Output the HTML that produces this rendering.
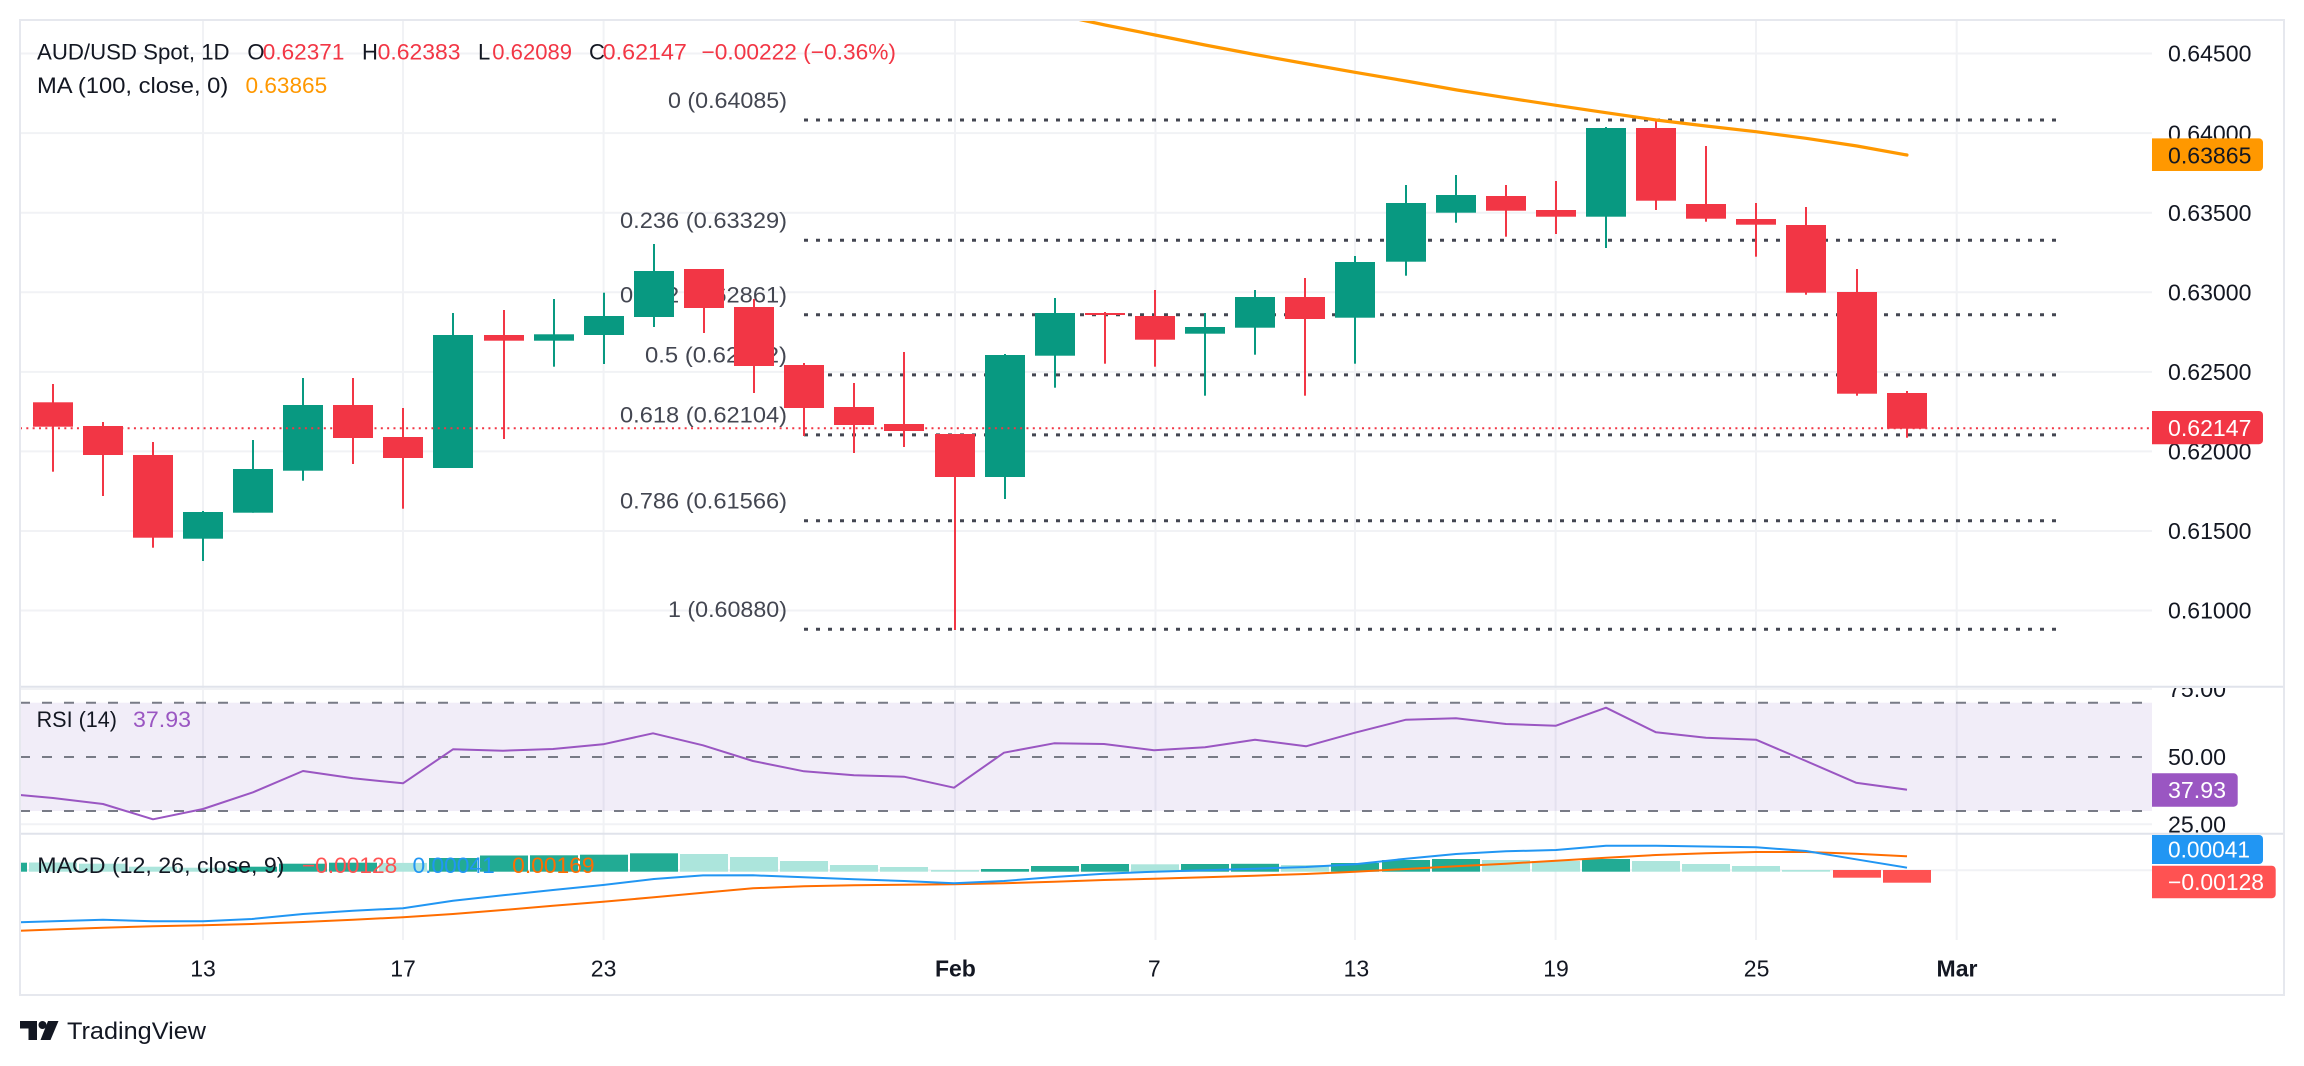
<!DOCTYPE html>
<html>
<head>
<meta charset="utf-8">
<style>
  html,body{margin:0;padding:0;background:#ffffff;}
  svg{display:block;}
  text{font-family:"Liberation Sans", Arial, sans-serif;}
</style>
</head>
<body>
<svg width="2304" height="1066" viewBox="0 0 2304 1066" xmlns="http://www.w3.org/2000/svg">
  <defs>
    <clipPath id="mainClip"><rect x="20" y="20" width="2132" height="666"/></clipPath>
    <clipPath id="rsiAxisClip"><rect x="2152" y="688" width="132" height="145"/></clipPath>
  </defs>
  <rect x="0" y="0" width="2304" height="1066" fill="#ffffff"/>

  <!-- horizontal gridlines main -->
  <g stroke="#f1f2f5" stroke-width="2">
    <line x1="20" y1="53.5" x2="2152" y2="53.5"/>
    <line x1="20" y1="133.1" x2="2152" y2="133.1"/>
    <line x1="20" y1="212.7" x2="2152" y2="212.7"/>
    <line x1="20" y1="292.2" x2="2152" y2="292.2"/>
    <line x1="20" y1="371.9" x2="2152" y2="371.9"/>
    <line x1="20" y1="451.4" x2="2152" y2="451.4"/>
    <line x1="20" y1="531" x2="2152" y2="531"/>
    <line x1="20" y1="610.5" x2="2152" y2="610.5"/>
    <line x1="20" y1="689" x2="2152" y2="689"/>
    <line x1="20" y1="824.3" x2="2152" y2="824.3"/>
    <line x1="20" y1="870.3" x2="2152" y2="870.3"/>
  </g>
  <!-- vertical gridlines -->
  <g stroke="#f1f2f5" stroke-width="2">
    <line x1="203" y1="20" x2="203" y2="940"/>
    <line x1="403" y1="20" x2="403" y2="940"/>
    <line x1="603.6" y1="20" x2="603.6" y2="940"/>
    <line x1="955" y1="20" x2="955" y2="940"/>
    <line x1="1155.5" y1="20" x2="1155.5" y2="940"/>
    <line x1="1355" y1="20" x2="1355" y2="940"/>
    <line x1="1555.6" y1="20" x2="1555.6" y2="940"/>
    <line x1="1756" y1="20" x2="1756" y2="940"/>
    <line x1="1956.7" y1="20" x2="1956.7" y2="940"/>
  </g>

  <!-- Fib labels (behind candles) -->
  <g fill="#434651" font-size="22">
    <text x="668" y="108" textLength="119" lengthAdjust="spacingAndGlyphs">0 (0.64085)</text>
    <text x="620" y="228" textLength="167" lengthAdjust="spacingAndGlyphs">0.236 (0.63329)</text>
    <text x="620" y="302.5" textLength="167" lengthAdjust="spacingAndGlyphs">0.382 (0.62861)</text>
    <text x="645" y="362.5" textLength="142" lengthAdjust="spacingAndGlyphs">0.5 (0.62482)</text>
    <text x="620" y="422.5" textLength="167" lengthAdjust="spacingAndGlyphs">0.618 (0.62104)</text>
    <text x="620" y="508.5" textLength="167" lengthAdjust="spacingAndGlyphs">0.786 (0.61566)</text>
    <text x="668" y="617" textLength="119" lengthAdjust="spacingAndGlyphs">1 (0.60880)</text>
  </g>

  <!-- Fib dotted lines -->
  <g stroke="#434651" stroke-width="3" stroke-dasharray="4 8">
    <line x1="804" y1="120" x2="2057" y2="120"/>
    <line x1="804" y1="240.2" x2="2057" y2="240.2"/>
    <line x1="804" y1="314.8" x2="2057" y2="314.8"/>
    <line x1="804" y1="374.9" x2="2057" y2="374.9"/>
    <line x1="804" y1="434.9" x2="2057" y2="434.9"/>
    <line x1="804" y1="520.7" x2="2057" y2="520.7"/>
    <line x1="804" y1="629.3" x2="2057" y2="629.3"/>
  </g>

  <!-- Candles -->
  <g clip-path="url(#mainClip)">
    <g fill="#F23645">
      <rect x="52" y="384" width="2" height="87.7"/><rect x="33" y="402.3" width="40" height="24.4"/>
      <rect x="102" y="422" width="2" height="74"/><rect x="83" y="426" width="40" height="29"/>
      <rect x="152" y="442" width="2" height="105.7"/><rect x="133" y="455" width="40" height="82.7"/>
      <rect x="352" y="378" width="2" height="86"/><rect x="333" y="405" width="40" height="33"/>
      <rect x="402" y="408" width="2" height="100.7"/><rect x="383" y="437" width="40" height="21"/>
      <rect x="503" y="310" width="2" height="129"/><rect x="484" y="335" width="40" height="5.7"/>
      <rect x="703" y="269" width="2" height="64"/><rect x="684" y="269" width="40" height="39"/>
      <rect x="753" y="299" width="2" height="94"/><rect x="734" y="307" width="40" height="59"/>
      <rect x="803" y="363" width="2" height="73"/><rect x="784" y="365" width="40" height="43"/>
      <rect x="853" y="383" width="2" height="70"/><rect x="834" y="407" width="40" height="18"/>
      <rect x="903" y="352" width="2" height="95"/><rect x="884" y="424" width="40" height="7"/>
      <rect x="954" y="434" width="2" height="196"/><rect x="935" y="434" width="40" height="43"/>
      <rect x="1104" y="312" width="2" height="51.7"/><rect x="1085" y="313" width="40" height="2"/>
      <rect x="1154" y="290" width="2" height="76.7"/><rect x="1135" y="316" width="40" height="23.7"/>
      <rect x="1304" y="278" width="2" height="117.7"/><rect x="1285" y="297" width="40" height="22"/>
      <rect x="1505" y="185" width="2" height="51.7"/><rect x="1486" y="196" width="40" height="14.7"/>
      <rect x="1555" y="181" width="2" height="53"/><rect x="1536" y="210" width="40" height="6.7"/>
      <rect x="1655" y="119" width="2" height="91"/><rect x="1636" y="128" width="40" height="72.7"/>
      <rect x="1705" y="146" width="2" height="75.7"/><rect x="1686" y="204" width="40" height="14.7"/>
      <rect x="1755" y="203" width="2" height="53.7"/><rect x="1736" y="219" width="40" height="5.7"/>
      <rect x="1805" y="207" width="2" height="87.7"/><rect x="1786" y="225" width="40" height="67.7"/>
      <rect x="1856" y="269" width="2" height="126.7"/><rect x="1837" y="292" width="40" height="101.7"/>
      <rect x="1906" y="391" width="2" height="46.7"/><rect x="1887" y="393" width="40" height="35.7"/>
    </g>
    <g fill="#089981">
      <rect x="202" y="511" width="2" height="50"/><rect x="183" y="512" width="40" height="26.7"/>
      <rect x="252" y="440" width="2" height="72.7"/><rect x="233" y="469" width="40" height="43.7"/>
      <rect x="302" y="378" width="2" height="102.7"/><rect x="283" y="405" width="40" height="65.7"/>
      <rect x="452" y="313" width="2" height="155"/><rect x="433" y="335" width="40" height="133"/>
      <rect x="553" y="299" width="2" height="67.7"/><rect x="534" y="334.3" width="40" height="6.4"/>
      <rect x="603" y="292.7" width="2" height="71.3"/><rect x="584" y="316" width="40" height="19"/>
      <rect x="653" y="244" width="2" height="83"/><rect x="634" y="271" width="40" height="46"/>
      <rect x="1004" y="354" width="2" height="145"/><rect x="985" y="355" width="40" height="122"/>
      <rect x="1054" y="298" width="2" height="89.7"/><rect x="1035" y="313" width="40" height="42.7"/>
      <rect x="1204" y="313" width="2" height="82.7"/><rect x="1185" y="327" width="40" height="6.7"/>
      <rect x="1254" y="290" width="2" height="64.7"/><rect x="1235" y="297" width="40" height="30.7"/>
      <rect x="1354" y="256" width="2" height="107.7"/><rect x="1335" y="262" width="40" height="55.7"/>
      <rect x="1405" y="185" width="2" height="90.7"/><rect x="1386" y="203" width="40" height="58.7"/>
      <rect x="1455" y="175" width="2" height="47.7"/><rect x="1436" y="195" width="40" height="17.7"/>
      <rect x="1605" y="127" width="2" height="121"/><rect x="1586" y="128" width="40" height="88.7"/>
    </g>
    <!-- current price dotted line -->
    <line x1="20" y1="428.2" x2="2152" y2="428.2" stroke="#F23645" stroke-width="2" stroke-dasharray="2 4.33"/>
    <!-- MA 100 -->
    <polyline fill="none" stroke="#FF9800" stroke-width="3.2" stroke-linejoin="round" stroke-linecap="round"
      points="1040,11 1105,25 1155,35 1205,45 1255,54.5 1305,63.5 1355,72.3 1406,81 1457,90 1506,97.7 1556,105.3 1606,112.7 1656,120 1706,126 1756,131.7 1806,138.3 1857,146 1907,155"/>
  </g>

  <!-- Legend -->
  <g font-size="22">
    <text x="37" y="59.6" fill="#131722" textLength="192.6" lengthAdjust="spacingAndGlyphs">AUD/USD Spot, 1D</text>
    <text x="247.4" y="59.6" fill="#131722">O</text>
    <text x="262.8" y="59.6" fill="#F23645" textLength="81.6" lengthAdjust="spacingAndGlyphs">0.62371</text>
    <text x="362" y="59.6" fill="#131722">H</text>
    <text x="377.6" y="59.6" fill="#F23645" textLength="82.9" lengthAdjust="spacingAndGlyphs">0.62383</text>
    <text x="478" y="59.6" fill="#131722">L</text>
    <text x="492.3" y="59.6" fill="#F23645" textLength="79.7" lengthAdjust="spacingAndGlyphs">0.62089</text>
    <text x="589" y="59.6" fill="#131722">C</text>
    <text x="602.7" y="59.6" fill="#F23645" textLength="84.2" lengthAdjust="spacingAndGlyphs">0.62147</text>
    <text x="701.5" y="59.6" fill="#F23645" textLength="194.5" lengthAdjust="spacingAndGlyphs">−0.00222 (−0.36%)</text>
    <text x="37" y="92.9" fill="#131722" textLength="191.3" lengthAdjust="spacingAndGlyphs">MA (100, close, 0)</text>
    <text x="245.5" y="92.9" fill="#FF9800" textLength="81.7" lengthAdjust="spacingAndGlyphs">0.63865</text>
  </g>

  <!-- RSI pane -->
  <rect x="20" y="702.7" width="2132" height="108.3" fill="#7E57C2" fill-opacity="0.11"/>
  <g stroke="#787b86" stroke-width="2" stroke-dasharray="10 12">
    <line x1="20" y1="702.7" x2="2152" y2="702.7"/>
    <line x1="20" y1="757" x2="2152" y2="757"/>
    <line x1="20" y1="811" x2="2152" y2="811"/>
  </g>
  <polyline fill="none" stroke="#9a56c2" stroke-width="2" stroke-linejoin="round"
    points="20,795 53,798 103,804 153,819.3 203,809 253,792.3 303,771 353,778.3 403,783.3 453,749.3 503,750.7 553,749 603,744.3 653,733.3 703,745.3 753,761 804,771.3 854,775.3 904,776.7 954,787.7 1004,752.7 1054,743.3 1104,744 1154,750.3 1205,747.3 1255,739.7 1306,746.3 1355,732.7 1406,719.7 1456,718.3 1506,724 1556,725.7 1606,707.7 1656,732.3 1706,737.8 1756,739.7 1806,761 1856,782.7 1907,789.7"/>
  <g font-size="22">
    <text x="36.6" y="727.2" fill="#131722" textLength="80.4" lengthAdjust="spacingAndGlyphs">RSI (14)</text>
    <text x="133" y="727.2" fill="#9a56c2" textLength="58" lengthAdjust="spacingAndGlyphs">37.93</text>
  </g>

  <!-- MACD pane: histogram -->
  <g fill="#ACE5DC">
    <rect x="29" y="862.5" width="48" height="9.2"/>
    <rect x="79" y="863.7" width="48" height="8"/>
    <rect x="129" y="866.7" width="48" height="5"/>
    <rect x="179" y="867.7" width="48" height="4"/>
    <rect x="379" y="862.9" width="48" height="8.8"/>
    <rect x="680" y="854" width="48" height="17.7"/>
    <rect x="730" y="857" width="48" height="14.7"/>
    <rect x="780" y="861" width="48" height="10.7"/>
    <rect x="830" y="865" width="48" height="6.7"/>
    <rect x="880" y="867" width="48" height="4.7"/>
    <rect x="931" y="870" width="48" height="1.7"/>
    <rect x="1131" y="864.3" width="48" height="7.4"/>
    <rect x="1281" y="865" width="48" height="6.7"/>
    <rect x="1482" y="860" width="48" height="11.7"/>
    <rect x="1532" y="861" width="48" height="10.7"/>
    <rect x="1632" y="861" width="48" height="10.7"/>
    <rect x="1682" y="864" width="48" height="7.7"/>
    <rect x="1732" y="866" width="48" height="5.7"/>
    <rect x="1782" y="870" width="48" height="1.7"/>
  </g>
  <g fill="#22AB94">
    <rect x="20" y="862.7" width="7" height="9"/>
    <rect x="229" y="866.7" width="48" height="5"/>
    <rect x="279" y="863.7" width="48" height="8"/>
    <rect x="329" y="862.7" width="48" height="9"/>
    <rect x="429" y="858" width="48" height="13.7"/>
    <rect x="480" y="855.5" width="48" height="16.2"/>
    <rect x="530" y="855.3" width="48" height="16.4"/>
    <rect x="580" y="854.7" width="48" height="17"/>
    <rect x="630" y="853.3" width="48" height="18.4"/>
    <rect x="981" y="869" width="48" height="2.7"/>
    <rect x="1031" y="866" width="48" height="5.7"/>
    <rect x="1081" y="864" width="48" height="7.7"/>
    <rect x="1181" y="864" width="48" height="7.7"/>
    <rect x="1231" y="863.8" width="48" height="7.9"/>
    <rect x="1331" y="863" width="48" height="8.7"/>
    <rect x="1382" y="860" width="48" height="11.7"/>
    <rect x="1432" y="859" width="48" height="12.7"/>
    <rect x="1582" y="859" width="48" height="12.7"/>
  </g>
  <g fill="#FF5252">
    <rect x="1833" y="870" width="48" height="7.7"/>
    <rect x="1883" y="870" width="48" height="12.7"/>
  </g>
  <polyline fill="none" stroke="#FF6D00" stroke-width="2" stroke-linejoin="round"
    points="20,930.7 53,929.5 103,927.7 153,926.3 203,925.3 252,924 303,922 353,919.7 403,917.3 453,914 503,910 553,905.7 603,901.7 654,897.3 703,892.7 753,888.3 804,886.3 854,885.3 904,884.7 954,884.3 1004,883.3 1054,881.7 1104,880 1154,878.7 1205,877.3 1254,875.7 1306,874 1355,871.7 1406,869 1456,866.3 1506,863.7 1556,860.7 1606,857.7 1656,855 1706,853.3 1756,852 1806,852 1856,853.7 1907,856.3"/>
  <polyline fill="none" stroke="#2196F3" stroke-width="2" stroke-linejoin="round"
    points="20,922.3 53,921.2 103,919.7 153,921.3 203,921.3 252,919 303,914 353,910.7 403,908.3 453,900.7 503,895.3 553,890 603,885 654,879 703,875.4 753,875.3 804,877.3 854,879.3 904,881 954,883.3 1004,881 1054,877 1104,873.7 1154,871.7 1205,870.3 1254,868.7 1306,867 1355,864.3 1406,858.7 1456,854 1506,851.3 1556,850 1606,845.7 1656,845.7 1706,846.5 1756,847.3 1806,851 1856,859.3 1907,867.7"/>
  <g font-size="22">
    <text x="37.3" y="872.9" fill="#131722" textLength="247.2" lengthAdjust="spacingAndGlyphs">MACD (12, 26, close, 9)</text>
    <text x="301.9" y="872.9" fill="#FF5252" textLength="95.4" lengthAdjust="spacingAndGlyphs">−0.00128</text>
    <text x="412.5" y="872.9" fill="#2196F3" textLength="82.3" lengthAdjust="spacingAndGlyphs">0.00041</text>
    <text x="512.2" y="872.9" fill="#FF6D00" textLength="82.4" lengthAdjust="spacingAndGlyphs">0.00169</text>
  </g>

  <!-- pane separators & frame -->
  <g stroke="#e0e3eb" stroke-width="2">
    <line x1="20" y1="686.7" x2="2284" y2="686.7"/>
    <line x1="20" y1="833.7" x2="2284" y2="833.7"/>
  </g>
  <rect x="20" y="20" width="2264" height="975" fill="none" stroke="#e6e8ee" stroke-width="2"/>

  <!-- Price axis labels -->
  <g font-size="23" fill="#131722">
    <text x="2168" y="61.7" textLength="83.4" lengthAdjust="spacingAndGlyphs">0.64500</text>
    <text x="2168" y="141.3" textLength="83.4" lengthAdjust="spacingAndGlyphs">0.64000</text>
    <text x="2168" y="220.9" textLength="83.4" lengthAdjust="spacingAndGlyphs">0.63500</text>
    <text x="2168" y="300.4" textLength="83.4" lengthAdjust="spacingAndGlyphs">0.63000</text>
    <text x="2168" y="380.1" textLength="83.4" lengthAdjust="spacingAndGlyphs">0.62500</text>
    <text x="2168" y="459.6" textLength="83.4" lengthAdjust="spacingAndGlyphs">0.62000</text>
    <text x="2168" y="539.2" textLength="83.4" lengthAdjust="spacingAndGlyphs">0.61500</text>
    <text x="2168" y="618.7" textLength="83.4" lengthAdjust="spacingAndGlyphs">0.61000</text>
    <g clip-path="url(#rsiAxisClip)">
      <text x="2168" y="697.2" textLength="58" lengthAdjust="spacingAndGlyphs">75.00</text>
    </g>
    <text x="2168" y="765.2" textLength="58" lengthAdjust="spacingAndGlyphs">50.00</text>
    <text x="2168" y="832.3" textLength="58" lengthAdjust="spacingAndGlyphs">25.00</text>
  </g>

  <!-- value boxes -->
  <path d="M2152,138.4 H2259 a4,4 0 0 1 4,4 V167 a4,4 0 0 1 -4,4 H2152 Z" fill="#FF9800"/>
  <text x="2168" y="163.4" font-size="23" fill="#131722" textLength="83.4" lengthAdjust="spacingAndGlyphs">0.63865</text>
  <path d="M2152,411 H2259 a4,4 0 0 1 4,4 V440.2 a4,4 0 0 1 -4,4 H2152 Z" fill="#F23645"/>
  <text x="2168" y="436" font-size="23" fill="#ffffff" textLength="83.4" lengthAdjust="spacingAndGlyphs">0.62147</text>
  <path d="M2152,773.3 H2233.7 a4,4 0 0 1 4,4 V802.7 a4,4 0 0 1 -4,4 H2152 Z" fill="#9a56c2"/>
  <text x="2168" y="798.2" font-size="23" fill="#ffffff" textLength="58" lengthAdjust="spacingAndGlyphs">37.93</text>
  <path d="M2152,835 H2259 a4,4 0 0 1 4,4 V860 a4,4 0 0 1 -4,4 H2152 Z" fill="#2196F3"/>
  <text x="2168" y="857.7" font-size="23" fill="#ffffff" textLength="82" lengthAdjust="spacingAndGlyphs">0.00041</text>
  <path d="M2152,865.7 H2271.7 a4,4 0 0 1 4,4 V894.3 a4,4 0 0 1 -4,4 H2152 Z" fill="#FF5252"/>
  <text x="2168" y="890.2" font-size="23" fill="#ffffff" textLength="96" lengthAdjust="spacingAndGlyphs">−0.00128</text>

  <!-- x-axis labels -->
  <g font-size="23" fill="#131722" text-anchor="middle">
    <text x="203" y="976.5">13</text>
    <text x="403" y="976.5">17</text>
    <text x="603.6" y="976.5">23</text>
    <text x="955.4" y="976.5" font-weight="bold">Feb</text>
    <text x="1154.3" y="976.5">7</text>
    <text x="1356.4" y="976.5">13</text>
    <text x="1556" y="976.5">19</text>
    <text x="1756.6" y="976.5">25</text>
    <text x="1957" y="976.5" font-weight="bold">Mar</text>
  </g>

  <!-- TradingView logo -->
  <g fill="#131722">
    <path d="M20,1021 H37 V1040 H28.5 V1028.5 H20 Z"/>
    <circle cx="42.5" cy="1025" r="4"/>
    <path d="M48,1021 H58.5 L50.5,1040 H40.5 Z"/>
    <text x="67" y="1039" font-size="24" textLength="139" lengthAdjust="spacingAndGlyphs">TradingView</text>
  </g>
</svg>
</body>
</html>
